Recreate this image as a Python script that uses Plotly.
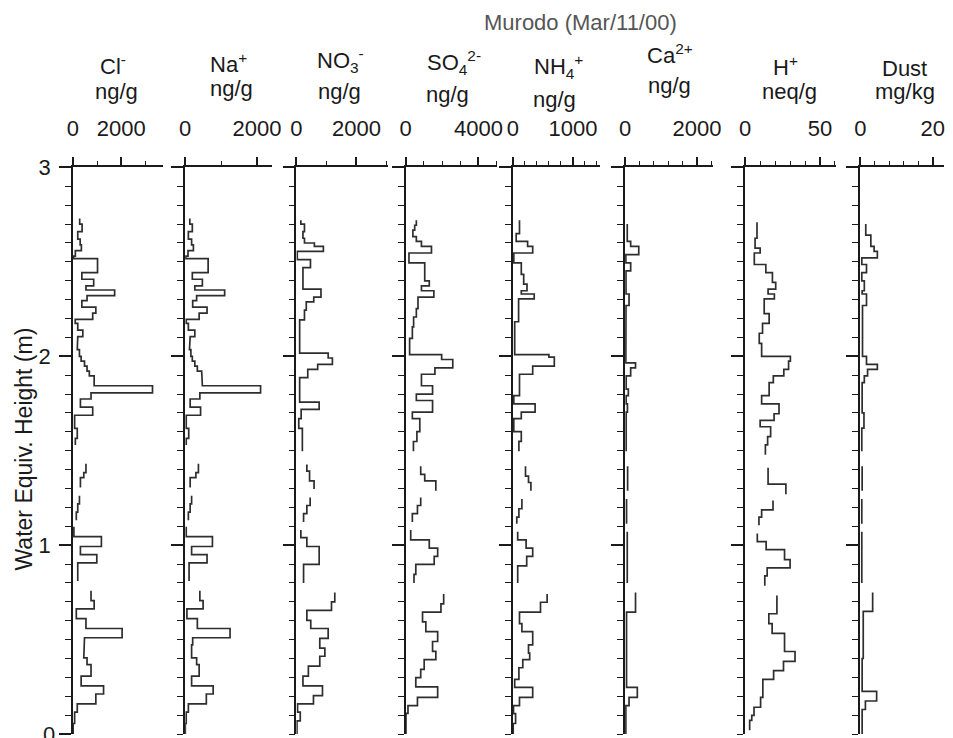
import plotly.graph_objects as go

# ---------------- data (depth = water equiv. height in m; value applies from depth[i] down to depth[i+1]) -------------
cl_depth = [2.73, 2.70, 2.66, 2.62, 2.59, 2.56, 2.53, 2.517, 2.443, 2.408, 2.373, 2.351, 2.321, 2.295, 2.26, 2.229,
            2.196, 2.174, 2.139, 2.104, 2.069, 2.035, 2.0, 1.974, 1.948, 1.922, 1.896, 1.844, 1.806, 1.774, 1.731,
            1.688, 1.618, 1.566, 1.53, 1.431, 1.384, 1.358, 1.306, 1.262, 1.219, 1.175, 1.132, 1.097, 1.045, 0.993,
            0.950, 0.906, 0.811, 0.759, 0.707, 0.663, 0.611, 0.559, 0.510, 0.472, 0.403, 0.368, 0.307, 0.255, 0.212,
            0.160, 0.116, 0.056, 0.0]
cl_value = [280, 380, 200, 300, 350, 100, 30, 1020, 370, 860, 540, 1730, 585, 370, 950, 820,
            95, 200, 410, 200, 180, 270, 340, 480, 585, 680, 880, 3300, 750, 310, 820,
            70, 180, 100, None, 540, 450, 310, None, 270, 200, 140, None, 40, 1180, 310,
            990, 200, None, 750, 880, 140, 540, 2040, 480, 450, 585, 750, 340, 1270, 950,
            180, 70, 10]

na_depth = cl_depth
na_value = [130, 200, 90, 180, 230, 80, 20, 640, 200, 480, 270, 1100, 320, 210, 610, 390,
            30, 90, 270, 140, 120, 160, 200, 270, 340, 460, 480, 2100, 410, 140, 430,
            30, 100, 30, None, 370, 300, 140, None, 180, 140, 90, None, 30, 760, 180,
            610, 110, None, 410, 500, 50, 340, 1250, 210, 180, 320, 390, 180, 780, 590,
            90, 30, 5]

no3_depth = [2.72, 2.70, 2.66, 2.625, 2.60, 2.582, 2.556, 2.512, 2.469, 2.356, 2.313, 2.288, 2.245, 2.193, 2.017,
             1.991, 1.957, 1.931, 1.887, 1.757, 1.719, 1.670, 1.618, 1.497, 1.427, 1.392, 1.34, 1.297, 1.253, 1.21,
             1.167, 1.123, 1.08, 1.04, 0.993, 0.898, 0.80, 0.75, 0.70, 0.655, 0.602, 0.559, 0.507, 0.455, 0.412,
             0.36, 0.307, 0.255, 0.203, 0.16, 0.116, 0.07, 0.0]
no3_value = [150, 270, 220, 270, 600, 900, 30, 470, 220, 820, 580, 330, 270, 110, 1060,
             1200, 710, 380, 110, 760, 160, 80, 200, None, 350, 440, 590, None, 460, 350,
             240, None, 150, 350, 760, 240, None, 1280, 1170, 350, 480, 1060, 780, 950, 780,
             400, 220, 870, 570, 40, 130, 20]

so4_depth = [2.72, 2.694, 2.668, 2.634, 2.608, 2.582, 2.547, 2.495, 2.399, 2.373, 2.347, 2.313, 2.252, 2.208, 2.156,
             2.095, 2.009, 1.983, 1.939, 1.905, 1.844, 1.800, 1.766, 1.705, 1.670, 1.601, 1.549, 1.497, 1.418, 1.375,
             1.34, 1.288, 1.253, 1.21, 1.167, 1.123, 1.08, 1.028, 0.984, 0.941, 0.898, 0.845, 0.80, 0.741, 0.689,
             0.646, 0.594, 0.542, 0.49, 0.438, 0.394, 0.342, 0.299, 0.25, 0.194, 0.151, 0.11, 0.0]
so4_value = [590, 500, 400, 590, 870, 1420, 185, 1050, 1300, 870, 1550, 680, 590, 440, 370,
             220, 1980, 2590, 1610, 870, 1480, 590, 1480, 370, 780, 620, 430, None, 830, 1050,
             1660, None, 830, 650, 370, None, 280, 1300, 1760, 1570, 560, 460, None, 2090, 1940,
             930, 1110, 1760, 1480, 1660, 1020, 830, 560, 1760, 650, 130, 20]

nh4_depth = [2.72, 2.65, 2.608, 2.582, 2.547, 2.495, 2.434, 2.382, 2.347, 2.330, 2.304, 2.183, 2.009, 1.996, 1.948,
             1.905, 1.792, 1.748, 1.705, 1.670, 1.601, 1.55, 1.497, 1.418, 1.366, 1.332, 1.288, 1.245, 1.193, 1.149,
             1.114, 1.071, 1.028, 0.984, 0.941, 0.89, 0.80, 0.741, 0.698, 0.646, 0.585, 0.542, 0.472, 0.429, 0.394,
             0.351, 0.29, 0.247, 0.194, 0.151, 0.108, 0.056, 0.0]
nh4_value = [110, 55, 245, 330, 15, 140, 180, 235, 140, 355, 95, 30, 600, 690, 330,
             110, 15, 370, 140, 15, 140, 100, None, 210, 260, 300, None, 150, 100, 65,
             None, 80, 220, 330, 230, 80, None, 570, 460, 110, 150, 330, 260, 280, 165,
             100, 30, 330, 110, 10, 45, 5]

ca_depth = [2.70, 2.608, 2.582, 2.538, 2.495, 2.452, 2.330, 2.269, 2.0, 1.965, 1.939, 1.896, 1.826, 1.792, 1.748,
            1.705, 1.497, 1.418, 1.288, 1.245, 1.114, 1.071, 0.80, 0.75, 0.646, 0.247, 0.194, 0.151, 0.0]
ca_value = [60, 155, 380, 20, 155, 25, 110, 25, 20, 290, 155, 30, 90, 30, 65,
            30, None, 70, None, 40, None, 60, None, 290, 40, 340, 110, 20]

h_depth = [2.71, 2.625, 2.573, 2.547, 2.486, 2.443, 2.391, 2.356, 2.330, 2.304, 2.226, 2.174, 2.122, 2.069, 2.0,
           1.974, 1.931, 1.896, 1.861, 1.792, 1.748, 1.696, 1.661, 1.627, 1.575, 1.531, 1.479, 1.41, 1.323, 1.27,
           1.236, 1.187, 1.149, 1.105, 1.062, 1.019, 0.976, 0.924, 0.88, 0.837, 0.785, 0.733, 0.637, 0.585, 0.533,
           0.437, 0.385, 0.336, 0.29, 0.194, 0.142, 0.099, 0.073, 0.02]
h_value = [7.9, 6.6, 10.0, 6.1, 13.8, 18.2, 20.4, 15.3, 19.5, 12.7, 16.0, 11.6, 9.4, 11.0, 30.2,
           29.0, 25.8, 18.8, 16.0, 11.0, 22.6, 19.3, 10.0, 17.0, 15.0, 13.5, None, 15.3, 27.2, None,
           18.6, 11.0, 9.2, None, 8.1, 14.0, 26.3, 30.0, 14.7, 13.1, None, 21.2, 15.8, 18.0, 26.3,
           33.3, 25.6, 19.0, 11.8, 10.3, 5.9, 4.4, 3.0]

dust_depth = [2.70, 2.642, 2.582, 2.556, 2.521, 2.486, 2.443, 2.399, 2.347, 2.330, 2.269, 2.0, 1.957, 1.931, 1.896,
              1.861, 1.70, 1.62, 1.497, 1.418, 1.288, 1.245, 1.114, 1.071, 0.80, 0.75, 0.65, 0.40, 0.226, 0.175,
              0.13, 0.0]
dust_value = [1.5, 2.9, 3.8, 4.7, 0.4, 1.7, 0.4, 1.1, 0.5, 1.7, 0.6, 1.7, 4.7, 2.0, 1.1,
              0.5, 1.0, 0.4, None, 0.5, None, 0.4, None, 0.4, None, 3.4, 0.8, 0.5, 4.5, 1.4,
              0.5]

panel_names = ["Cl<sup>-</sup>", "Na<sup>+</sup>", "NO<sub>3</sub><sup>-</sup>", "SO<sub>4</sub><sup>2-</sup>",
               "NH<sub>4</sub><sup>+</sup>", "Ca<sup>2+</sup>", "H<sup>+</sup>", "Dust"]
panel_units = ["ng/g", "ng/g", "ng/g", "ng/g", "ng/g", "ng/g", "neq/g", "mg/kg"]
major_ticks = [[0, 2000], [0, 2000], [0, 2000], [0, 4000], [0, 1000], [0, 2000], [0, 50], [0, 20]]
minor_step = [1000, 1000, 1000, 1000, 200, 400, 10, 4]
x_max = [3755, 2411, 3049, 5000, 1443, 2438, 60.5, 23.1]
y_ticks = [0, 1, 2, 3]
y_ticktext = ["", "1", "2", "3"]

profiles = [(cl_depth, cl_value), (na_depth, na_value), (no3_depth, no3_value), (so4_depth, so4_value),
            (nh4_depth, nh4_value), (ca_depth, ca_value), (h_depth, h_value), (dust_depth, dust_value)]

# ---------------- layout geometry (pixels) ----------------
W, H = 953, 738
panel_px = [(68, 160), (182, 270), (295, 388), (406, 498.5), (515, 603), (629, 718), (751, 843), (868, 953)]
y_top_px, y_bot_px = 158, 734
head_name_pos = [(109, 54), (226, 52), (340, 49), (455, 51), (561, 55), (675, 43), (792, 55), (913, 57)]
head_unit_pos = [(112, 81), (229, 78), (339, 81), (449, 84), (557, 89), (674, 75), (796, 81), (913, 81)]

FONT = "Liberation Sans, Arial, sans-serif"
INK = "#1a1a1a"
LINE = "#2e2e2e"
FS = 22


def step_path(depth, vals):
    xs, ys = [], []
    for i, v in enumerate(vals):
        if v is None:
            xs.append(None)
            ys.append(None)
            continue
        xs += [v, v]
        ys += [depth[i], depth[i + 1]]
    return xs, ys


fig = go.Figure()
layout = dict(
    width=W, height=H, margin=dict(l=0, r=0, t=0, b=0),
    paper_bgcolor="white", plot_bgcolor="white", showlegend=False,
    font=dict(family=FONT, size=FS, color=INK),
)
ydom = [1 - y_bot_px / H, 1 - y_top_px / H]

for i, (depth, vals) in enumerate(profiles):
    k = "" if i == 0 else str(i + 1)
    xs, ys = step_path(depth, vals)
    fig.add_trace(go.Scatter(x=xs, y=ys, mode="lines", xaxis="x" + k, yaxis="y" + k,
                             line=dict(color=LINE, width=1.7), connectgaps=False, hoverinfo="skip"))
    x0, x1 = panel_px[i]
    layout["xaxis" + k] = dict(
        domain=[x0 / W, x1 / W], range=[0, x_max[i]], side="top", anchor="y" + k,
        showgrid=False, zeroline=False, showline=True, linecolor=INK, linewidth=1.7,
        tickmode="array", tickvals=major_ticks[i], ticktext=[str(t) for t in major_ticks[i]],
        ticks="outside", ticklen=9, tickwidth=1.5, tickcolor=INK,
        ticklabelstandoff=12,
        tickfont=dict(family=FONT, size=FS, color=INK),
        minor=dict(dtick=minor_step[i], tick0=0, ticks="outside", ticklen=5, tickwidth=1.2, tickcolor=INK),
        fixedrange=True,
    )
    layout["yaxis" + k] = dict(
        domain=ydom, range=[0, 3], anchor="x" + k,
        showgrid=False, zeroline=False, showline=True, linecolor=INK, linewidth=1.7,
        tickmode="array", tickvals=y_ticks, ticktext=y_ticktext,
        showticklabels=(i == 0), ticklabelstandoff=4,
        ticks="outside", ticklen=12, tickwidth=1.5, tickcolor=INK,
        tickfont=dict(family=FONT, size=FS, color=INK),
        minor=dict(dtick=0.1, tick0=0, ticks="outside", ticklen=6, tickwidth=1.2, tickcolor=INK),
        fixedrange=True,
    )

ann = []
ann.append(dict(text="Murodo (Mar/11/00)", x=584 / W, y=1 - 11 / H, xref="paper", yref="paper",
                xanchor="center", yanchor="middle", showarrow=False,
                font=dict(family=FONT, size=FS, color="#555555")))
for i in range(8):
    nx, ny = head_name_pos[i]
    ux, uy = head_unit_pos[i]
    ann.append(dict(text=panel_names[i], x=nx / W, y=1 - ny / H, xref="paper", yref="paper",
                    xanchor="center", yanchor="middle", showarrow=False,
                    font=dict(family=FONT, size=FS, color=INK)))
    ann.append(dict(text=panel_units[i], x=ux / W, y=1 - uy / H, xref="paper", yref="paper",
                    xanchor="center", yanchor="middle", showarrow=False,
                    font=dict(family=FONT, size=FS, color=INK)))
# bottom y-axis label "0" (sits at the very edge of the page, partly cut as in the original)
ann.append(dict(text="0", x=52 / W, y=1 - 734 / H, xref="paper", yref="paper",
                xanchor="right", yanchor="middle", showarrow=False,
                font=dict(family=FONT, size=FS, color=INK)))
ann.append(dict(text="Water Equiv. Height (m)", x=18 / W, y=1 - 444 / H, xref="paper", yref="paper",
                xanchor="center", yanchor="middle", textangle=-90, showarrow=False,
                font=dict(family=FONT, size=23, color=INK)))
layout["annotations"] = ann

fig.update_layout(**layout)
fig.write_html("out.html")
